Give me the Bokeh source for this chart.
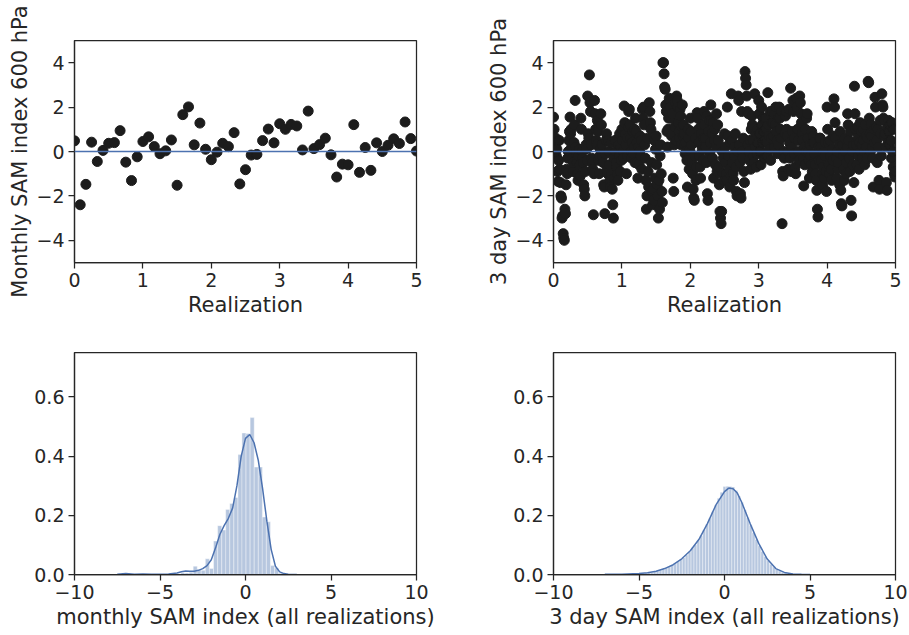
import numpy as np
from bokeh.plotting import figure
from bokeh.layouts import column, row
from bokeh.models import Span, FixedTicker, Range1d
from bokeh.embed import file_html
from bokeh.resources import INLINE

# ---------------- data ----------------
months_per_realization = 12
days3_per_realization = 120

monthly_sam = [0.48, -2.4, -1.48, 0.42, -0.45, 0.05, 0.37, 0.4, 0.94, -0.48, -1.31, -0.24,
               0.45, 0.66, 0.22, -0.1, 0.03, 0.52, -1.52, 1.66, 2.01, 0.3, 1.28, 0.1,
               -0.37, -0.03, 0.37, 0.22, 0.85, -1.46, -0.82, -0.16, -0.13, 0.49, 1.01, 0.39,
               1.25, 1.0, 1.22, 1.15, 0.07, 1.82, 0.13, 0.31, 0.6, -0.15, -1.15, -0.57,
               -0.6, 1.21, -0.94, 0.18, -0.85, 0.39, 0.0, 0.28, 0.57, 0.36, 1.33, 0.58, 0.02]

three_day_sam = [
    1.55, 1.0, 0.5, 0.3, 0.6, -0.2, 0.1, -0.9, -1.35, -0.4, 0.5, -0.8,
    -1.4, -2.0, -2.1, -3.0, -2.9, -3.7, -3.9, -4.0, -2.6, -2.8, -1.5, -0.8,
    -1.0, -0.3, 0.0, 0.5, 0.9, 1.55, 0.8, 1.0, 0.2, -0.3, -0.9, -0.5,
    0.4, 1.2, 2.3, 0.2, -0.1, -0.5, -1.0, -1.3, -0.2, 0.1, -0.6, -1.1,
    1.5, 1.0, 0.0, -0.3, -0.5, -1.5, -1.7, -2.0, -0.9, 0.3, 0.1, -0.4,
    2.5, 0.8, 0.6, 3.45, 2.2, 1.8, 0.3, -0.3, -0.5, -0.8, -2.85, -1.0,
    2.3, 1.7, 1.0, 0.5, 0.3, 1.4, 0.9, -0.4, -1.0, -0.2, 0.1, 1.7,
    1.2, 0.3, -0.2, -0.5, -1.5, -1.6, -2.8, -0.1, 0.5, 0.8, -0.8, -1.0,
    0.5, 0.0, -0.6, -1.3, -1.6, 0.4, -1.0, -1.7, -2.4, -3.0, -0.3, -1.2,
    0.5, 0.0, -0.5, -0.7, -1.0, -1.3, 0.3, -0.2, 0.8, -0.9, 0.2, -0.4,
    1.0, 0.5, 0.0, -0.3, 2.05, 1.3, 0.8, 0.3, -1.0, -0.2, 0.6, 1.1,
    1.8, 1.9, 1.2, 0.6, 0.0, -0.3, 0.4, 0.9, -0.1, 0.2, 1.0, -0.5,
    1.5, 0.9, 0.4, -0.5, -1.2, 0.2, -0.6, 0.0, 0.7, -0.2, 0.5, -0.8,
    1.9, 1.5, 2.0, 1.2, 0.3, -0.3, -1.3, -2.6, -2.0, 0.6, -0.9, -1.6,
    2.2, 1.8, 1.3, 1.0, -0.5, -1.8, -2.4, -1.7, -2.2, 0.5, -1.2, 0.1,
    0.7, -0.6, -1.5, -2.0, -3.0, -1.3, -2.6, -0.2, 0.3, -1.0, -1.8, -2.3,
    4.0, 4.0, 3.5, 2.9, 2.8, 2.1, 1.8, 0.9, 0.2, 1.0, 1.5, 2.4,
    2.3, 2.0, 1.5, 0.7, 1.7, 0.8, -1.2, -1.8, 0.3, 1.1, 2.2, 0.5,
    2.5, 2.3, 2.0, 1.3, 0.9, 0.6, 1.9, 1.6, 0.3, 1.1, 2.1, 0.7,
    1.2, 0.8, 0.3, -0.1, 0.4, 0.0, -0.4, -1.6, 1.0, 0.6, -0.8, 0.1,
    1.5, 0.9, 0.3, -0.5, -1.0, -1.7, -2.1, -2.2, -0.2, 0.6, -1.3, -0.7,
    1.75, 1.5, 1.0, 0.4, -0.2, -0.7, -1.2, 0.8, 1.2, 0.1, -0.4, 0.6,
    1.8, 1.2, 0.6, 0.2, -0.5, 1.6, -1.9, -2.2, 0.9, 1.4, -0.1, 0.4,
    2.1, 1.4, 0.8, -0.3, 1.3, -1.2, 0.5, 1.0, -0.6, 0.2, 1.7, -0.9,
    1.2, 0.5, -0.7, -1.5, -2.7, -3.0, -3.25, -2.7, 0.0, -1.0, -0.3, -1.3,
    0.8, 0.2, -0.5, -1.0, -1.3, 2.0, 0.7, -0.2, -0.8, -1.6, 0.4, -1.1,
    2.6, 0.5, -0.5, -1.0, -1.3, 0.2, -0.2, 0.8, -0.7, -1.8, -2.0, 0.0,
    2.5, 2.3, 0.3, -0.5, -1.9, -2.1, 1.8, 0.0, -0.3, 0.6, -0.9, -1.4,
    3.6, 3.3, 3.0, 2.5, 1.8, 0.3, 1.7, 0.0, -0.4, 0.5, -0.8, 1.0,
    1.6, 1.2, 0.5, -0.2, -0.5, 2.6, 0.2, 0.8, -0.7, -0.1, 1.0, 0.4,
    2.3, 1.7, 0.8, 0.0, -0.6, 2.0, 1.2, 0.4, 1.5, 0.9, -0.3, 0.5,
    1.5, 1.0, 0.4, -0.2, 2.65, 1.2, 0.7, 0.1, 1.8, -0.4, 0.6, 1.3,
    1.8, 1.3, 0.7, 0.2, 1.7, 1.2, 2.0, 0.9, 0.5, -0.1, 1.5, 0.3,
    2.0, 1.5, 1.0, 0.6, 1.8, -3.25, -0.9, -1.1, 0.0, -0.3, 0.8, 1.6,
    1.8, 1.0, 0.7, 0.0, -0.8, 1.9, 0.4, -0.3, 2.85, -0.9, 0.2, 0.9,
    2.3, 1.8, -0.1, 0.6, -0.7, -1.0, 2.4, 2.0, 1.0, 0.5, 0.0, -0.4,
    2.5, 2.2, 1.7, 1.3, 0.8, 0.5, -0.3, -1.55, 0.2, -0.6, 1.0, 0.0,
    1.5, 1.7, 0.6, 0.0, -0.4, -1.2, 0.3, -0.2, -0.6, 0.9, -0.9, 0.4,
    0.7, 0.4, -0.1, -0.6, -1.0, -1.3, -1.75, -2.6, -2.95, 0.2, -0.4, 0.6,
    0.6, 0.2, -0.4, -1.0, -1.5, -0.7, 0.0, -1.2, -0.2, 0.4, -0.9, -1.8,
    2.0, 1.0, 0.4, -0.6, -1.0, 0.5, -0.2, -0.8, -1.3, 0.1, -0.4, 0.7,
    2.37, 2.0, 1.3, 0.6, -0.3, -1.2, 0.0, -0.8, -0.5, 0.3, -1.5, 0.9,
    -1.75, -2.35, -2.45, 0.3, -0.2, -0.8, -1.3, 0.6, 0.0, -1.0, -0.5, 0.2,
    1.7, 1.2, 0.5, -0.3, -0.9, 0.9, -2.2, -2.9, 0.0, -0.6, 0.3, -1.4,
    2.94, 1.7, 1.0, 0.3, -0.6, 1.1, 0.6, -0.2, -0.8, 0.4, 1.3, 0.0,
    0.9, 0.3, -0.3, 1.0, 0.5, 0.0, -0.6, 1.2, 0.7, 0.2, -0.3, 0.6,
    3.16, 3.1, 1.5, 0.8, 0.0, 1.2, 0.7, 0.2, -0.3, -1.6, 1.0, 0.4,
    2.44, 2.0, 1.1, 0.5, -0.5, 1.0, 0.2, -1.3, -1.7, 1.4, 0.8, -0.2,
    2.6, 2.1, 2.0, 1.5, 0.7, 1.4, 0.8, 0.2, -1.4, -1.75, 1.1, 0.4,
    1.4, 0.9, 0.3, 1.2, 0.5, -0.3, 1.3, 0.0, -0.7, 1.0, -1.0, -1.15,
    -0.9,
]

# monthly histogram (density) and KDE, all realizations
monthly_bin_centers = [-3.66, -3.42, -3.18, -2.94, -2.71, -2.47, -2.23, -1.99, -1.75, -1.51,
                       -1.27, -1.04, -0.80, -0.56, -0.32, -0.09, 0.15, 0.39, 0.63, 0.87,
                       1.10, 1.34, 1.58, 1.82, 2.06]
monthly_bin_density = [0.006, 0.005, 0.008, 0.028, 0.016, 0.014, 0.053, 0.020, 0.113, 0.165,
                       0.150, 0.220, 0.240, 0.260, 0.405, 0.478, 0.476, 0.530, 0.363, 0.363,
                       0.194, 0.178, 0.030, 0.022, 0.004]
monthly_kde_x = [-7.5, -7.0, -6.5, -6.0, -5.5, -5.0, -4.5, -4.0, -3.75, -3.5, -3.25, -3.0,
                 -2.75, -2.5, -2.25, -2.0, -1.75, -1.5, -1.25, -1.0, -0.75, -0.5, -0.25, 0.0,
                 0.25, 0.5, 0.75, 1.0, 1.25, 1.5, 1.75, 2.0, 2.25, 2.5, 3.0]
monthly_kde_y = [0.001, 0.003, 0.001, 0.002, 0.001, 0.001, 0.002, 0.005, 0.009, 0.012, 0.011, 0.011,
                 0.014, 0.02, 0.03, 0.05, 0.09, 0.135, 0.165, 0.19, 0.225, 0.30, 0.40, 0.46,
                 0.473, 0.445, 0.385, 0.29, 0.18, 0.085, 0.028, 0.009, 0.003, 0.001, 0.0]

# 3-day histogram (density) and KDE, all realizations
three_day_bin_centers = [-5.10, -4.93, -4.76, -4.59, -4.42, -4.25, -4.08, -3.91, -3.74, -3.57,
                         -3.40, -3.23, -3.06, -2.89, -2.72, -2.55, -2.38, -2.21, -2.04, -1.87,
                         -1.70, -1.53, -1.36, -1.19, -1.02, -0.85, -0.68, -0.51, -0.34, -0.17,
                         0.00, 0.17, 0.34, 0.51, 0.68, 0.85, 1.02, 1.19, 1.36, 1.53,
                         1.70, 1.87, 2.04, 2.21, 2.38, 2.55, 2.72, 2.89, 3.06, 3.23,
                         3.40, 3.57, 3.74, 3.91, 4.08, 4.25]
three_day_bin_density = [0.003, 0.004, 0.004, 0.005, 0.007, 0.008, 0.010, 0.012, 0.015, 0.019,
                         0.022, 0.026, 0.031, 0.036, 0.043, 0.050, 0.057, 0.066, 0.077, 0.090,
                         0.100, 0.116, 0.131, 0.150, 0.170, 0.190, 0.212, 0.235, 0.258, 0.278,
                         0.297, 0.298, 0.297, 0.296, 0.284, 0.265, 0.243, 0.218, 0.192, 0.166,
                         0.141, 0.118, 0.097, 0.078, 0.061, 0.047, 0.035, 0.026, 0.018, 0.012,
                         0.008, 0.005, 0.003, 0.002, 0.001, 0.0005]
three_day_kde_x = [-7.0, -6.0, -5.0, -4.5, -4.0, -3.5, -3.0, -2.5, -2.0, -1.5, -1.0, -0.5,
                   0.0, 0.25, 0.5, 0.75, 1.0, 1.5, 2.0, 2.5, 3.0, 3.5, 4.0, 4.5, 5.0]
three_day_kde_y = [0.0005, 0.001, 0.003, 0.006, 0.011, 0.02, 0.033, 0.053, 0.08, 0.118, 0.172, 0.235,
                   0.28, 0.292, 0.29, 0.275, 0.245, 0.172, 0.105, 0.052, 0.02, 0.007, 0.002, 0.0005, 0.0]

# ---------------- style ----------------
FONT = "DejaVu Sans"
INK = "#262626"
BLUE = "#4c72b0"
DOT = "#1c1c1c"
TICK_SIZE = "19px"
LABEL_SIZE = "21px"


def minus(v, fmt):
    return fmt.format(v).replace("-", "\u2212")


def make_fig(w, h, bl, br, bt, bb, xr, yr, xticks, yticks, xfmt, yfmt, xlabel, ylabel):
    p = figure(width=w, height=h, x_range=Range1d(*xr), y_range=Range1d(*yr),
               output_backend="svg", toolbar_location=None,
               min_border_left=bl, min_border_right=br, min_border_top=bt, min_border_bottom=bb)
    p.xgrid.visible = False
    p.ygrid.visible = False
    p.background_fill_color = "white"
    p.border_fill_color = "white"
    p.outline_line_color = INK
    p.outline_line_width = 1.25
    p.outline_line_alpha = 1.0
    p.xaxis.ticker = FixedTicker(ticks=xticks)
    p.yaxis.ticker = FixedTicker(ticks=yticks)
    p.xaxis.major_label_overrides = {t: minus(t, xfmt) for t in xticks}
    p.yaxis.major_label_overrides = {t: minus(t, yfmt) for t in yticks}
    for ax in (p.xaxis[0], p.yaxis[0]):
        ax.axis_line_color = INK
        ax.axis_line_width = 1.25
        ax.major_tick_line_color = INK
        ax.major_tick_line_width = 1.25
        ax.major_tick_out = 6
        ax.major_tick_in = 0
        ax.minor_tick_line_color = None
        ax.major_label_text_font = FONT
        ax.major_label_text_font_size = TICK_SIZE
        ax.major_label_text_color = INK
        ax.axis_label_text_font = FONT
        ax.axis_label_text_font_size = LABEL_SIZE
        ax.axis_label_text_font_style = "normal"
        ax.axis_label_text_color = INK
    p.xaxis.major_label_standoff = 4
    p.xaxis.axis_label_standoff = 3
    p.yaxis.major_label_standoff = 4
    p.yaxis.axis_label_standoff = 1
    p.xaxis.axis_label = xlabel
    if ylabel:
        p.yaxis.axis_label = ylabel
    return p


TOP_H, BOT_H = 320, 315
LEFT_W, RIGHT_W = 480, 429

# top-left: monthly
p1 = make_fig(LEFT_W, TOP_H, 74, 64, 40, 58, (0, 5), (-5, 5),
              [0, 1, 2, 3, 4, 5], [-4, -2, 0, 2, 4], "{:d}", "{:d}",
              "Realization", "Monthly SAM index 600 hPa")
mx = np.arange(len(monthly_sam)) / months_per_realization
p1.scatter(mx, monthly_sam, size=10, color=DOT, line_color=DOT)
p1.add_layout(Span(location=0, dimension="width", line_color=BLUE, line_width=1.3))

# top-right: 3 day
p2 = make_fig(RIGHT_W, TOP_H, 73, 14, 40, 58, (0, 5), (-5, 5),
              [0, 1, 2, 3, 4, 5], [-4, -2, 0, 2, 4], "{:d}", "{:d}",
              "Realization", "3 day SAM index 600 hPa")
dx = np.arange(len(three_day_sam)) / days3_per_realization
p2.scatter(dx, three_day_sam, size=10, color=DOT, line_color=DOT)
p2.add_layout(Span(location=0, dimension="width", line_color=BLUE, line_width=1.3))

# bottom-left: monthly distribution
p3 = make_fig(LEFT_W, BOT_H, 74, 64, 32, 61, (-10, 10), (0, 0.75),
              [-10, -5, 0, 5, 10], [0.0, 0.2, 0.4, 0.6], "{:d}", "{:.1f}",
              "monthly SAM index (all realizations)", None)
p3.vbar(x=monthly_bin_centers, top=monthly_bin_density, width=0.238, bottom=0,
        fill_color=BLUE, fill_alpha=0.4, line_color="white", line_width=0.4)
p3.line(monthly_kde_x, monthly_kde_y, line_color=BLUE, line_width=1.5)

# bottom-right: 3 day distribution
p4 = make_fig(RIGHT_W, BOT_H, 73, 14, 32, 61, (-10, 10), (0, 0.75),
              [-10, -5, 0, 5, 10], [0.0, 0.2, 0.4, 0.6], "{:d}", "{:.1f}",
              "3 day SAM index (all realizations)", None)
p4.vbar(x=three_day_bin_centers, top=three_day_bin_density, width=0.17, bottom=0,
        fill_color=BLUE, fill_alpha=0.4, line_color="white", line_width=0.4)
p4.line(three_day_kde_x, three_day_kde_y, line_color=BLUE, line_width=1.5)

layout = column(row(p1, p2), row(p3, p4))
open("out.html", "w").write(file_html(layout, INLINE))
